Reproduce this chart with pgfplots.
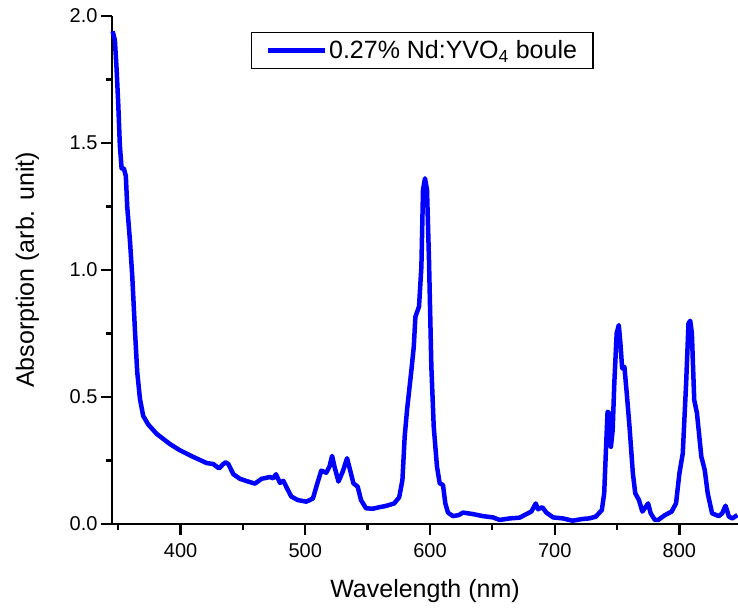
\documentclass[border=0pt]{standalone}
\usepackage{pgfplots}
\pgfplotsset{compat=1.18}
\usepackage{fontspec}
\setmainfont{Liberation Sans}
\begin{document}
\begin{tikzpicture}
\useasboundingbox (-112pt,-83pt) rectangle (626pt,524pt);
\begin{axis}[
  at={(0pt,0pt)}, anchor=south west,
  width=626pt, height=508pt, scale only axis,
  xmin=345, xmax=847, ymin=0, ymax=2.0,
  axis x line*=bottom, axis y line*=left,
  axis line style={line width=2.3pt},
  every tick/.style={black, line width=2.3pt},
  tick align=outside,
  major tick length=11pt, minor tick length=6pt,
  xtick={400,500,600,700,800}, minor xtick={350,450,550,650,750,850},
  ytick={0,0.5,1.0,1.5,2.0}, minor ytick={0.25,0.75,1.25,1.75},
  /pgf/number format/assume math mode=true,
  yticklabel style={/pgf/number format/fixed, /pgf/number format/precision=1, /pgf/number format/fixed zerofill, font=\fontsize{20}{24}\selectfont},
  xticklabel style={font=\fontsize{20}{24}\selectfont, yshift=-5pt},
  xlabel={Wavelength (nm)},
  ylabel={Absorption (arb. unit)},
  xlabel style={at={(axis description cs:0.5,-0.1437)}, anchor=base, font=\fontsize{25}{30}\selectfont},
  ylabel style={at={(axis description cs:-0.1246,0.5)}, anchor=base, rotate=0, font=\fontsize{25}{30}\selectfont},
  legend style={at={(0.222,0.9685)}, anchor=north west, draw=black, line width=1.3pt, fill=white,
    font=\fontsize{25}{29}\selectfont, inner xsep=14pt, inner ysep=6pt},
  legend image code/.code={\draw[#1, line width=4.5pt] (0pt,0pt) -- (57pt,0pt);},
  clip=false,
]
\addplot[blue, line width=4.5pt, line join=round] coordinates {
(345.5,1.94) (347.3,1.905) (348.7,1.79) (350.0,1.655) (351.3,1.49) (352.7,1.40)
(354.5,1.40) (356.1,1.37) (357.2,1.25) (359.4,1.115) (361.2,0.98) (363.4,0.763)
(365.2,0.60) (367.4,0.493) (370.0,0.426) (374.0,0.392) (380.8,0.355) (391.4,0.315)
(399.5,0.29) (410.2,0.264) (420.9,0.24) (426.2,0.236) (430.8,0.219) (434,0.235)
(436.1,0.243) (438.3,0.236) (442.3,0.196) (447.6,0.178) (452.9,0.169) (459.6,0.159)
(465.0,0.178) (471.7,0.185) (474.3,0.18) (476.5,0.196) (479.7,0.162) (482.4,0.17)
(485.4,0.14) (488.8,0.108) (494.1,0.094) (500.8,0.088) (506.1,0.10) (509.3,0.154)
(512.8,0.21) (516.8,0.202) (519.4,0.226) (521.5,0.268) (523.4,0.226) (526.6,0.167)
(530.0,0.206) (533.5,0.259) (535.9,0.213) (538.6,0.16) (542.0,0.147) (544.7,0.094)
(548.7,0.062) (554.0,0.06) (559.3,0.066) (564.6,0.071) (571.3,0.081) (575.3,0.105)
(577.9,0.173) (579.7,0.344) (581.6,0.449) (585.1,0.606) (587.0,0.698) (588.3,0.816)
(591.2,0.856) (593.1,1.013) (594.4,1.315) (596.0,1.361) (597.6,1.315) (599.2,1.04)
(601.1,0.619) (603.0,0.383) (605.6,0.226) (607.8,0.16) (610.4,0.154) (612.3,0.081)
(614.4,0.045) (618.4,0.031) (623,0.035) (626.5,0.045) (634.5,0.039) (642.5,0.031)
(650.5,0.026) (655.9,0.016) (663.9,0.022) (671.9,0.025) (677.3,0.039) (681.3,0.049)
(684.8,0.081) (686.6,0.058) (690.1,0.066) (693.3,0.045) (698.7,0.026) (706.7,0.022)
(714.2,0.013) (722.7,0.02) (727.6,0.022) (733,0.029) (737.8,0.055) (739.7,0.121)
(741.1,0.291) (742.4,0.442) (743.8,0.436) (745.1,0.304) (746.5,0.37) (747.8,0.554)
(749.7,0.751) (751.4,0.783) (752.7,0.711) (754.1,0.613) (755.9,0.619) (757.8,0.514)
(760.0,0.383) (762.7,0.199) (764.6,0.121) (767.6,0.094) (770.3,0.049) (772.2,0.062)
(774.9,0.081) (777.0,0.042) (780.3,0.016) (783.0,0.016) (788.4,0.035) (793.8,0.049)
(797.3,0.081) (800.0,0.199) (802.7,0.278) (805.4,0.554) (807.3,0.79) (808.7,0.80)
(810.0,0.751) (811.9,0.488) (814.1,0.436) (817.6,0.265) (820.3,0.213) (822.7,0.121)
(826.2,0.042) (831.6,0.031) (834.3,0.042) (837.0,0.072) (839.7,0.029) (842.4,0.022)
(846.5,0.035)
};
\addlegendentry{0.27\% Nd:YVO\textsubscript{4} boule}
\end{axis}
\end{tikzpicture}
\end{document}
